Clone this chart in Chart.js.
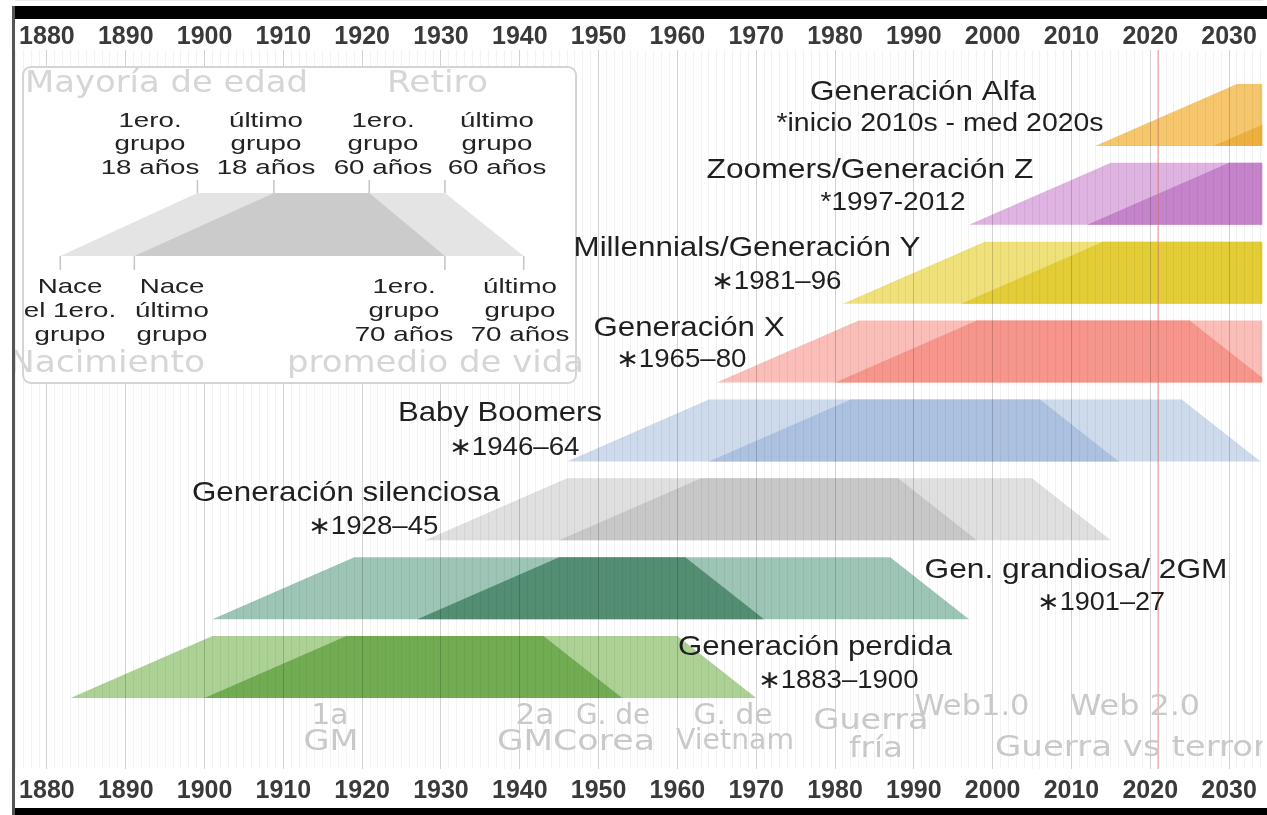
<!DOCTYPE html>
<html lang="es">
<head>
<meta charset="UTF-8">
<title>Generaciones</title>
<style>
  html, body { margin: 0; padding: 0; background: #fff; overflow: hidden; }
  #wrap { position: relative; width: 1267px; height: 815px; }
</style>
</head>
<body>
<div id="wrap"><canvas id="myChart"></canvas></div>

<script src="https://cdn.jsdelivr.net/npm/chart.js"></script>

<script>
  // ---- data ----
  const generations = ['Generación Alfa', 'Zoomers/Generación Z', 'Millennials/Generación Y', 'Generación X',
                       'Baby Boomers', 'Generación silenciosa', 'Gen. grandiosa/ 2GM', 'Generación perdida'];
  const rangeLabels = ['*inicio 2010s - med 2020s', '*1997-2012', '∗1981–96', '∗1965–80',
                       '∗1946–64', '∗1928–45', '∗1901–27', '∗1883–1900'];
  const birthFirst = [2013, 1997, 1981, 1965, 1946, 1928, 1901, 1883];
  const birthLast  = [2028, 2012, 1996, 1980, 1964, 1945, 1927, 1900];
  const adultAge = 18, retireAge = 60, lifeAge = 70;
  const tickYears = [1880, 1890, 1900, 1910, 1920, 1930, 1940, 1950, 1960, 1970, 1980, 1990, 2000, 2010, 2020, 2030];
  const currentYear = 2021;

  // legend schematic (years on the same axis, rows on the same y axis)
  const legendOuter = [1881.7, 1899.1, 1930.5, 1940.5];
  const legendInner = [1891.1, 1908.8, 1920.9, 1930.5];
  const legendRows = [5.212, 6.011];

  // ---- layout / style ----
  const xMin = 1875.95, xMax = 2034.24;
  const yMin = -1.293, yMax = 7.824, bandHalf = 0.393;
  const outerColors = ['#F5C66C', '#DEB3E1', '#F0E07A', '#FABDB7', '#CDDAEC', '#DFDFDF', '#9DC5B6', '#ACD195'];
  const innerColors = ['#EDB03E', '#C583C9', '#E3CD37', '#F6958B', '#ABC1DF', '#C7C7C7', '#538E73', '#71AC53'];

  const nameSpots  = [[923, 92, 226], [870, 170, 327], [747, 248, 347], [689, 328, 191],
                      [500, 413, 204], [346, 493, 308], [1076, 570, 303], [815, 647, 274]];
  const rangeSpots = [[940, 124, 327], [893, 203, 145], [776, 282, 131], [681, 360, 131],
                      [514, 448, 131], [373, 527, 131], [1101, 603, 128], [838, 681, 161]];
  const eventSpots = [['1a', 330, 717, 37], ['GM', 331, 743, 55], ['2a', 535, 717, 39], ['GM', 525, 743, 56],
                      ['G. de', 613, 717, 74], ['Corea', 604, 743, 102], ['G. de', 733, 717, 79], ['Vietnam', 735, 742, 118],
                      ['Guerra', 871, 722, 115], ['fría', 876, 750, 54], ['Web1.0', 972, 708, 115], ['Web 2.0', 1135, 708, 130]];
  const legendTop = [[150, ['1ero.', 'grupo', '18 años']], [266, ['último', 'grupo', '18 años']],
                     [383, ['1ero.', 'grupo', '60 años']], [497, ['último', 'grupo', '60 años']]];
  const legendBottom = [[70, ['Nace', 'el 1ero.', 'grupo']], [172, ['Nace', 'último', 'grupo']],
                        [404, ['1ero.', 'grupo', '70 años']], [520, ['último', 'grupo', '70 años']]];

  const datasets = [];
  generations.forEach((g, i) => {
    const row = generations.length - 1 - i;
    const lo = row - bandHalf, hi = row + bandHalf;
    datasets.push({
      label: g,
      data: [{x: birthFirst[i], y: lo}, {x: birthFirst[i] + adultAge, y: hi},
             {x: birthLast[i] + retireAge, y: hi}, {x: birthLast[i] + lifeAge, y: lo}],
      fill: {value: lo}, backgroundColor: outerColors[i], borderColor: 'transparent',
      borderWidth: 0, pointRadius: 0, order: 2
    });
    datasets.push({
      label: g + ' (núcleo)',
      data: [{x: birthLast[i], y: lo}, {x: birthLast[i] + adultAge, y: hi},
             {x: birthFirst[i] + retireAge, y: hi}, {x: birthFirst[i] + lifeAge, y: lo}],
      fill: {value: lo}, backgroundColor: innerColors[i], borderColor: 'transparent',
      borderWidth: 0, pointRadius: 0, order: 1
    });
  });
  datasets.push({
    label: 'hoy',
    data: [{x: currentYear, y: yMin}, {x: currentYear, y: yMax}],
    borderColor: 'rgba(232,120,120,0.55)', borderWidth: 1.5, pointRadius: 0, fill: false, order: 0
  });

  function text(c, str, x, y, size, width, color, family, align, stretch) {
    c.save();
    c.font = size + 'px ' + family;
    const w = c.measureText(str).width;
    c.translate(x, y);
    c.scale(width ? width / w : stretch, 1);
    c.textAlign = align;
    c.textBaseline = 'middle';
    c.fillStyle = color;
    c.fillText(str, 0, 0);
    c.restore();
  }

  function roundBox(c, x, y, w, h, r) {
    c.beginPath();
    c.moveTo(x + r, y);
    c.arcTo(x + w, y, x + w, y + h, r);
    c.arcTo(x + w, y + h, x, y + h, r);
    c.arcTo(x, y + h, x, y, r);
    c.arcTo(x, y, x + w, y, r);
    c.closePath();
  }

  const frame = {
    id: 'frame',
    beforeDraw(chart) {
      const c = chart.ctx;
      c.save();
      c.fillStyle = '#fff';
      c.fillRect(0, 0, chart.width, chart.height);
      c.fillStyle = '#000';
      c.fillRect(13, 6, chart.width - 13, 13);
      c.fillRect(13, 808, chart.width - 13, 7);
      c.fillStyle = '#555';
      c.fillRect(12, 6, 3, chart.height - 6);
      c.restore();
    }
  };

  const notes = {
    id: 'notes',
    afterDraw(chart) {
      const c = chart.ctx, X = chart.scales.x, Y = chart.scales.y, a = chart.chartArea;
      const sans = '"Liberation Sans", Arial, sans-serif', soft = '"DejaVu Sans", sans-serif';
      c.save();
      c.beginPath();
      c.rect(a.left, 0, a.right - a.left, chart.height);
      c.clip();

      // legend box
      roundBox(c, 23, 67, 553, 316, 8);
      c.fillStyle = '#fff';
      c.fill();
      c.lineWidth = 2;
      c.strokeStyle = '#d4d4d4';
      c.stroke();

      const lo = Y.getPixelForValue(legendRows[0]), hi = Y.getPixelForValue(legendRows[1]);
      [[legendOuter, '#E4E4E4'], [legendInner, '#CBCBCB']].forEach(([xs, col]) => {
        c.beginPath();
        c.moveTo(X.getPixelForValue(xs[0]), lo);
        c.lineTo(X.getPixelForValue(xs[1]), hi);
        c.lineTo(X.getPixelForValue(xs[2]), hi);
        c.lineTo(X.getPixelForValue(xs[3]), lo);
        c.closePath();
        c.fillStyle = col;
        c.fill();
      });
      c.strokeStyle = '#c4c4c4';
      c.lineWidth = 1.5;
      [legendOuter[1], legendInner[1], legendInner[2], legendOuter[2]].forEach(v => {
        const px = X.getPixelForValue(v);
        c.beginPath(); c.moveTo(px, hi - 13); c.lineTo(px, hi); c.stroke();
      });
      [legendOuter[0], legendInner[0], legendInner[3], legendOuter[3]].forEach(v => {
        const px = X.getPixelForValue(v);
        c.beginPath(); c.moveTo(px, lo); c.lineTo(px, lo + 14); c.stroke();
      });

      text(c, 'Mayoría de edad', 25, 84, 30, 283, '#d6d6d6', soft, 'left');
      text(c, 'Retiro', 387, 84, 30, 101, '#d6d6d6', soft, 'left');
      text(c, 'Nacimiento', 9, 364, 30, 196, '#d6d6d6', soft, 'left');
      text(c, 'promedio de vida', 287, 364, 30, 297, '#d6d6d6', soft, 'left');

      legendTop.forEach(([cx, lines]) => lines.forEach((s, k) =>
        text(c, s, cx, 121 + k * 23.5, 21, 0, '#222', sans, 'center', 1.32)));
      legendBottom.forEach(([cx, lines]) => lines.forEach((s, k) =>
        text(c, s, cx, 287 + k * 24, 21, 0, '#222', sans, 'center', 1.32)));

      // generation names and birth ranges
      generations.forEach((g, i) => {
        const p = nameSpots[i], q = rangeSpots[i];
        text(c, g, p[0], p[1], 28, p[2], '#1f1f1f', sans, 'center');
        text(c, rangeLabels[i], q[0], q[1], 25, q[2], '#1f1f1f', sans, 'center');
      });

      // historical events
      eventSpots.forEach(e => text(c, e[0], e[1], e[2], 28, e[3], '#c9c9c9', soft, 'center'));
      text(c, 'Guerra vs terror', 995, 749, 28, 272, '#c9c9c9', soft, 'left');
      c.restore();
    }
  };

  const yearLines = [];
  for (let y = 1876; y <= 2034; y++) yearLines.push({value: y});

  const tickFont = {family: '"Liberation Sans", Arial, sans-serif', size: 25, weight: 'bold', lineHeight: 1};

  new Chart(document.getElementById('myChart'), {
    type: 'line',
    data: {datasets: datasets},
    options: {
      responsive: true,
      maintainAspectRatio: false,
      animation: false,
      devicePixelRatio: 1,
      events: [],
      layout: {padding: {left: 15, right: 0, top: 19, bottom: 7}},
      plugins: {legend: {display: false}, tooltip: {enabled: false}},
      scales: {
        x: {
          type: 'linear', position: 'bottom', min: xMin, max: xMax,
          afterBuildTicks: s => { s.ticks = tickYears.map(v => ({value: v})); },
          afterFit: s => { s.height = 39; },
          ticks: {font: tickFont, color: '#3a3a3a', padding: 10, maxRotation: 0, autoSkip: false,
                  callback: v => String(v)},
          grid: {color: 'rgba(0,0,0,0.13)', drawTicks: false, z: 1},
          border: {display: true, color: '#d8d8d8'}
        },
        xTop: {
          axis: 'x', type: 'linear', position: 'top', min: xMin, max: xMax,
          afterBuildTicks: s => { s.ticks = tickYears.map(v => ({value: v})); },
          afterFit: s => { s.height = 31; },
          ticks: {font: tickFont, color: '#3a3a3a', padding: 0, maxRotation: 0, autoSkip: false,
                  callback: v => String(v)},
          grid: {display: false, drawTicks: false},
          border: {display: false}
        },
        xYears: {
          axis: 'x', type: 'linear', position: 'bottom', min: xMin, max: xMax,
          afterBuildTicks: s => { s.ticks = yearLines.slice(); },
          afterFit: s => { s.height = 0; },
          ticks: {display: false},
          grid: {color: 'rgba(0,0,0,0.05)', drawTicks: false, z: 1},
          border: {display: false}
        },
        y: {type: 'linear', display: false, min: yMin, max: yMax}
      }
    },
    plugins: [frame, notes]
  });
</script>
</body>
</html>
